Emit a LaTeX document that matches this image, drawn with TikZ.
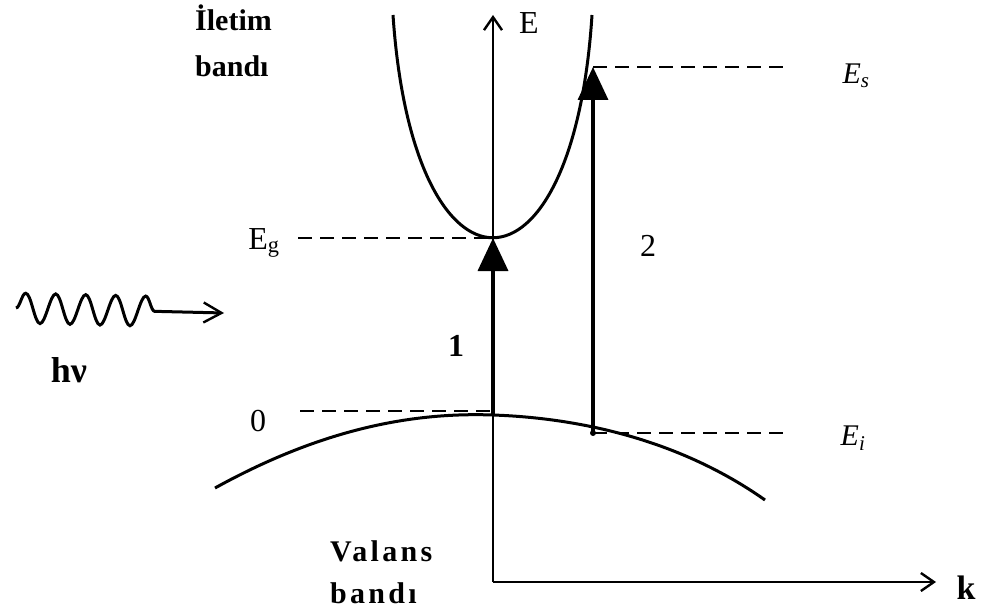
\documentclass[tikz,border=0pt]{standalone}
\usepackage{fontspec}
\setmainfont{Liberation Serif}
\usetikzlibrary{arrows.meta,positioning,decorations.pathmorphing}
\tikzset{
  band/.style={line width=3pt},
  ax/.style={line width=2.6pt, -{Straight Barb[length=13pt,width=18pt,line width=2.4pt]}},
  lvl/.style={line width=2.2pt, dash pattern=on 14pt off 8pt},
  jump/.style={line width=3.6pt, -{Triangle[length=33pt,width=30pt]}},
  lbl/.style={font=\fontsize{32}{36}\selectfont, inner sep=0pt},
  slbl/.style={font=\itshape\fontsize{30}{34}\selectfont, inner sep=0pt},
  blbl/.style={font=\bfseries\fontsize{30}{46}\selectfont, align=left, inner sep=0pt},
  wave/.style={line width=3pt, -{Straight Barb[length=18pt,width=20pt,line width=2.4pt]},
    decorate, decoration={snake, segment length=30pt, amplitude=15pt, post length=55pt}},
}
\begin{document}
\begin{tikzpicture}[x=1pt,y=-1pt]
  \useasboundingbox (0,0) rectangle (981,612);
  % axes
  \coordinate (O) at (493,582);
  \coordinate (Etop) at (493,15);
  \coordinate (Kend) at (936,582);
  \draw[ax] (O) -- (Etop);
  \draw[ax] (O) -- (Kend);
  \node[lbl] (elab) at (529,23) {E};
  \node[lbl, font=\bfseries\fontsize{34}{36}\selectfont] (klab) at (966,588) {k};
  % bands
  \coordinate (cmin) at (493,238);
  \coordinate (vmax) at (493,415);
  \draw[band] (393,15) .. controls (413,312) and (573,312) .. (592,15);
  \draw[band] (215,488) .. controls (320,430) and (410,412) .. (vmax)
    .. controls (580,418) and (680,440) .. (765,500);
  % levels
  \coordinate (vi) at (593,433);
  \coordinate (cs) at (593,67);
  \draw[lvl] (298,238) -- (cmin);
  \draw[lvl] (300,411) -- (493,411);
  \draw[lvl] (cs) -- (790,67);
  \draw[lvl] (vi) -- (790,433);
  % transitions
  \draw[jump] (vmax) -- (cmin);
  \draw[jump] (vi) -- (cs);
  \fill (vi) circle (3pt);
  \node[lbl, font=\bfseries\fontsize{32}{36}\selectfont] (one) at (456,346) {1};
  \node[lbl] (two) at (648,246) {2};
  \node[lbl] (zero) at (258,421) {0};
  \node[lbl] (eg) at (264,243) {E\textsubscript{g}};
  \node[slbl] (es) at (856,76) {E\textsubscript{s}};
  \node[slbl] (ei) at (853,438) {E\textsubscript{i}};
  % photon
  \coordinate (w0) at (16,308);
  \coordinate (w1) at (224,313);
  \draw[wave] (w0) -- (w1);
  \node[lbl, font=\bfseries\fontsize{36}{40}\selectfont] (hv) at (69,370) {hν};
  % band names
  \node[blbl, anchor=north west] (cb) at (195,5) {İletim\\bandı};
  \node[blbl, anchor=north west, font=\bfseries\fontsize{30}{42}\selectfont\addfontfeature{LetterSpace=11}] (vb) at (330,540) {Valans\\bandı};
\end{tikzpicture}
\end{document}
